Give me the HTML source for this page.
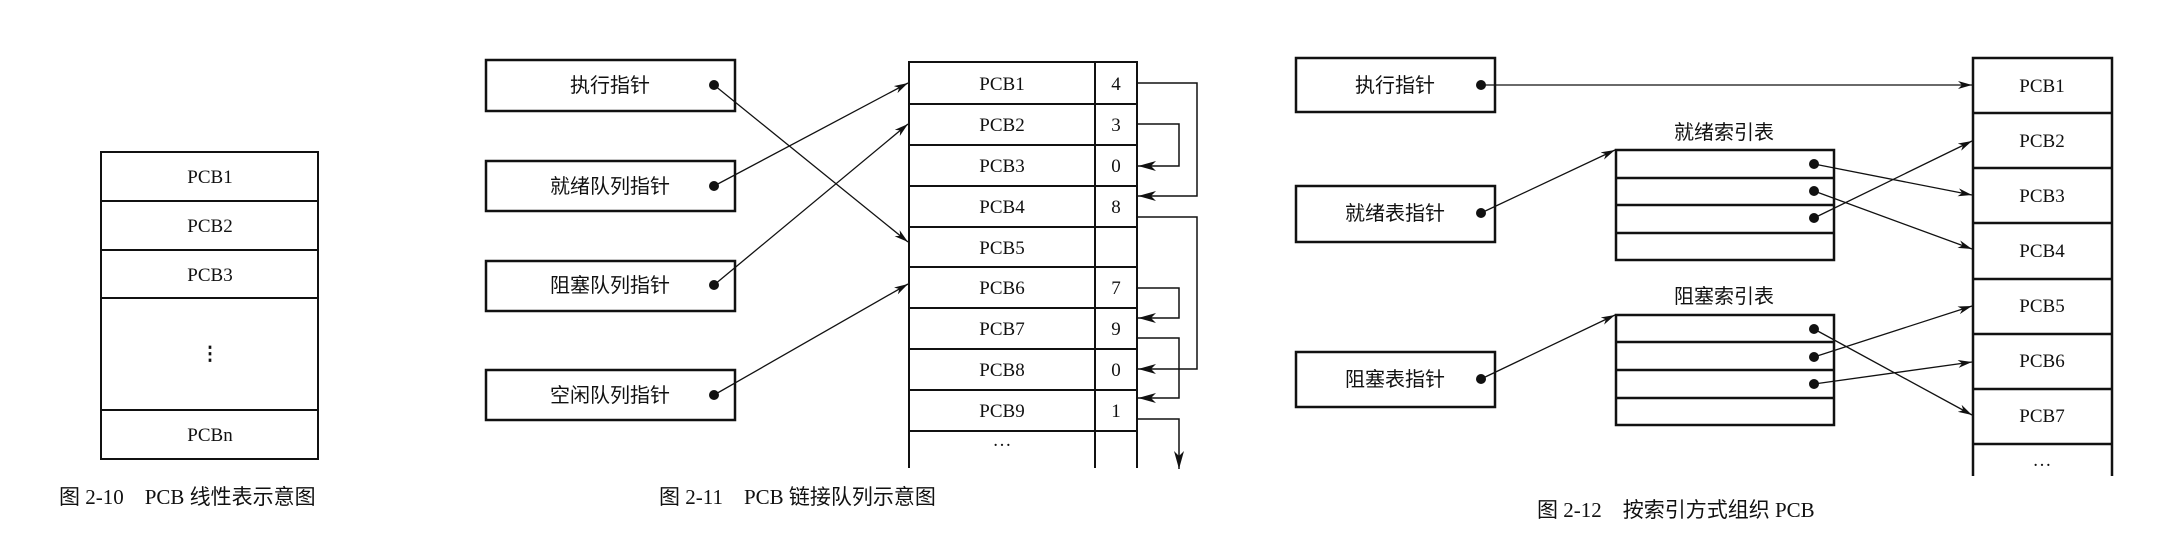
<!DOCTYPE html>
<html><head><meta charset="utf-8"><style>
html,body{margin:0;padding:0;background:#fff;}
svg{display:block}
text{font-family:"Liberation Serif","Noto Serif CJK SC",serif;fill:#111;}
.c{font-family:"Liberation Serif","Noto Sans CJK SC",sans-serif;}
</style></head><body>
<svg width="2171" height="558" viewBox="0 0 2171 558" xmlns="http://www.w3.org/2000/svg">
<defs>
<marker id="a" markerWidth="14" markerHeight="8" refX="14" refY="4" orient="auto" markerUnits="userSpaceOnUse"><path d="M0,0 L14,4 L0,8 L4,4 Z" fill="#111"/></marker>
<marker id="b" markerWidth="18" markerHeight="10" refX="18" refY="5" orient="auto" markerUnits="userSpaceOnUse"><path d="M0,0 L18,5 L0,10 L5,5 Z" fill="#111"/></marker>
</defs>
<g stroke="#111" fill="none">
<!-- Fig 2-10 -->
<rect x="101" y="152" width="217" height="307" stroke-width="2"/>
<line x1="101" y1="201" x2="318" y2="201" stroke-width="2"/>
<line x1="101" y1="250" x2="318" y2="250" stroke-width="2"/>
<line x1="101" y1="298" x2="318" y2="298" stroke-width="2"/>
<line x1="101" y1="410" x2="318" y2="410" stroke-width="2"/>

<!-- Fig 2-11 pointer boxes -->
<rect x="486" y="60" width="249" height="51" stroke-width="2.5"/>
<rect x="486" y="161" width="249" height="50" stroke-width="2.5"/>
<rect x="486" y="261" width="249" height="50" stroke-width="2.5"/>
<rect x="486" y="370" width="249" height="50" stroke-width="2.5"/>
<!-- PCB table -->
<path d="M909,468 V62 H1137 V468 M1095,62 V468" stroke-width="2"/>
<path d="M909,104 H1137 M909,145 H1137 M909,186 H1137 M909,227 H1137 M909,267 H1137 M909,308 H1137 M909,349 H1137 M909,390 H1137 M909,431 H1137" stroke-width="2"/>
<!-- pointer arrows -->
<g stroke-width="1.3">
<line x1="714" y1="85" x2="908" y2="242" marker-end="url(#a)"/>
<line x1="714" y1="186" x2="908" y2="83" marker-end="url(#a)"/>
<line x1="714" y1="285" x2="908" y2="124" marker-end="url(#a)"/>
<line x1="714" y1="395" x2="908" y2="284" marker-end="url(#a)"/>
</g>
<!-- link arrows -->
<g stroke-width="1.5">
<path d="M1137,83 H1197 V196 H1138" marker-end="url(#b)"/>
<path d="M1137,124 H1179 V166 H1138" marker-end="url(#b)"/>
<path d="M1137,217 H1197 V369 H1138" marker-end="url(#b)"/>
<path d="M1137,288 H1179 V318 H1138" marker-end="url(#b)"/>
<path d="M1137,338 H1179 V398 H1138" marker-end="url(#b)"/>
<path d="M1137,419 H1179 V469" marker-end="url(#b)"/>
</g>

<!-- Fig 2-12 -->
<rect x="1296" y="58" width="199" height="54" stroke-width="2.5"/>
<rect x="1296" y="186" width="199" height="56" stroke-width="2.5"/>
<rect x="1296" y="352" width="199" height="55" stroke-width="2.5"/>
<rect x="1616" y="150" width="218" height="110" stroke-width="2.5"/>
<path d="M1616,178 H1834 M1616,205 H1834 M1616,233 H1834" stroke-width="2.5"/>
<rect x="1616" y="315" width="218" height="110" stroke-width="2.5"/>
<path d="M1616,342 H1834 M1616,370 H1834 M1616,398 H1834" stroke-width="2.5"/>
<path d="M1973,476 V58 H2112 V476" stroke-width="2.5"/>
<path d="M1973,113 H2112 M1973,168 H2112 M1973,223 H2112 M1973,279 H2112 M1973,334 H2112 M1973,389 H2112 M1973,444 H2112" stroke-width="2.5"/>
<g stroke-width="1.3">
<line x1="1481" y1="85" x2="1972" y2="85" marker-end="url(#a)"/>
<line x1="1481" y1="213" x2="1615" y2="150" marker-end="url(#a)"/>
<line x1="1481" y1="379" x2="1615" y2="315" marker-end="url(#a)"/>
<line x1="1814" y1="164" x2="1972" y2="195" marker-end="url(#a)"/>
<line x1="1814" y1="191" x2="1972" y2="249" marker-end="url(#a)"/>
<line x1="1814" y1="218" x2="1972" y2="141" marker-end="url(#a)"/>
<line x1="1814" y1="329" x2="1972" y2="415" marker-end="url(#a)"/>
<line x1="1814" y1="357" x2="1972" y2="306" marker-end="url(#a)"/>
<line x1="1814" y1="384" x2="1972" y2="362" marker-end="url(#a)"/>
</g>
</g>
<g fill="#111">
<circle cx="714" cy="85" r="5"/><circle cx="714" cy="186" r="5"/><circle cx="714" cy="285" r="5"/><circle cx="714" cy="395" r="5"/>
<circle cx="1481" cy="85" r="5"/><circle cx="1481" cy="213" r="5"/><circle cx="1481" cy="379" r="5"/>
<circle cx="1814" cy="164" r="5"/><circle cx="1814" cy="191" r="5"/><circle cx="1814" cy="218" r="5"/>
<circle cx="1814" cy="329" r="5"/><circle cx="1814" cy="357" r="5"/><circle cx="1814" cy="384" r="5"/>
</g>

<g font-size="19" text-anchor="middle">
<text x="210" y="183">PCB1</text><text x="210" y="232">PCB2</text><text x="210" y="281">PCB3</text>
<text x="210" y="360" font-weight="bold">⋮</text><text x="210" y="441">PCBn</text>
<text x="1002" y="90">PCB1</text><text x="1002" y="131">PCB2</text><text x="1002" y="172">PCB3</text>
<text x="1002" y="213">PCB4</text><text x="1002" y="254">PCB5</text><text x="1002" y="294">PCB6</text>
<text x="1002" y="335">PCB7</text><text x="1002" y="376">PCB8</text><text x="1002" y="417">PCB9</text>
<text x="1002" y="446">…</text>
<text x="1116" y="90">4</text><text x="1116" y="131">3</text><text x="1116" y="172">0</text>
<text x="1116" y="213">8</text><text x="1116" y="294">7</text><text x="1116" y="335">9</text>
<text x="1116" y="376">0</text><text x="1116" y="417">1</text>
<text x="2042" y="92">PCB1</text><text x="2042" y="147">PCB2</text><text x="2042" y="202">PCB3</text>
<text x="2042" y="257">PCB4</text><text x="2042" y="312">PCB5</text><text x="2042" y="367">PCB6</text>
<text x="2042" y="422">PCB7</text><text x="2042" y="466">…</text>
</g>
<g font-size="20" text-anchor="middle" class="c">
<text class="c" x="610" y="92">执行指针</text>
<text class="c" x="610" y="193">就绪队列指针</text>
<text class="c" x="610" y="292">阻塞队列指针</text>
<text class="c" x="610" y="402">空闲队列指针</text>
<text class="c" x="1395" y="92">执行指针</text>
<text class="c" x="1395" y="220">就绪表指针</text>
<text class="c" x="1395" y="386">阻塞表指针</text>
<text class="c" x="1724" y="139">就绪索引表</text>
<text class="c" x="1724" y="303">阻塞索引表</text>
</g>
<g font-size="21" class="c">
<text class="c" x="59" y="504">图 2-10　PCB 线性表示意图</text>
<text class="c" x="659" y="504">图 2-11　PCB 链接队列示意图</text>
<text class="c" x="1537" y="517">图 2-12　按索引方式组织 PCB</text>
</g>
</svg>
</body></html>
